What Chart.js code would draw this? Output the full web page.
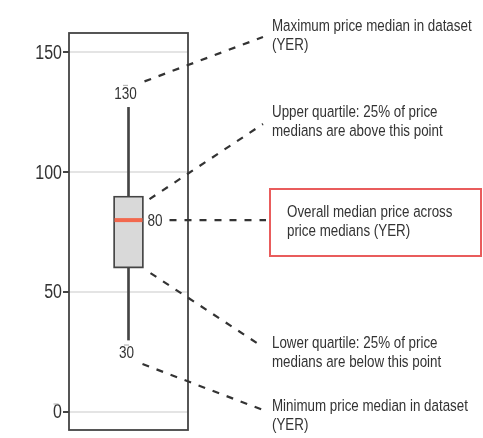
<!DOCTYPE html>
<html>
<head>
<meta charset="utf-8">
<script src="https://cdn.jsdelivr.net/npm/chart.js@4.4.1/dist/chart.umd.min.js"></script>
<style>
  html, body { margin: 0; padding: 0; background: #fff; }
  #wrap { width: 483px; height: 438px; position: relative; }
</style>
</head>
<body>
<div id="wrap"><canvas id="box"></canvas></div>
<script>
// box plot summary (YER)
const categories = ['Price medians'];
const minValue = [30];
const q1Value = [60];
const medianValue = [80];
const q3Value = [90];
const maxValue = [127];
const valueLabels = ['130', '80', '30'];
const tickValues = [0, 50, 100, 150];

const notes = [
  ['Maximum price median in dataset', '(YER)'],
  ['Upper quartile: 25% of price', 'medians are above this point'],
  ['Overall median price across', 'price medians (YER)'],
  ['Lower quartile: 25% of price', 'medians are below this point'],
  ['Minimum price median in dataset', '(YER)']
];

const FONT = "'Liberation Sans', Arial, sans-serif";
const INK = '#333333';
const SQUEEZE = 0.82; // fake arial narrow

function narrowText(ctx, text, x, y, align) {
  ctx.save();
  ctx.translate(x, y);
  ctx.scale(SQUEEZE, 1);
  ctx.textAlign = align || 'left';
  ctx.fillText(text, 0, 0);
  ctx.restore();
}

const boxExtras = {
  id: 'boxExtras',
  afterDatasetsDraw(chart) {
    const ctx = chart.ctx;
    const y = chart.scales.y;
    const x = chart.scales.x;
    const a = chart.chartArea;
    const cx = x.getPixelForValue(0);
    const half = 15;

    ctx.save();
    // frame
    ctx.strokeStyle = '#444';
    ctx.lineWidth = 1.8;
    ctx.strokeRect(a.left, a.top, a.right - a.left, a.bottom - a.top);

    // y tick labels
    ctx.fillStyle = INK;
    ctx.textBaseline = 'middle';
    ctx.font = '19.5px ' + FONT;
    y.ticks.forEach(t => narrowText(ctx, String(t.value), a.left - 7, y.getPixelForValue(t.value) + 1, 'right'));

    // median line
    const ym = y.getPixelForValue(medianValue[0]);
    ctx.strokeStyle = '#f2684e';
    ctx.lineWidth = 4;
    ctx.beginPath();
    ctx.moveTo(cx - half + 1, ym);
    ctx.lineTo(cx + half - 1, ym);
    ctx.stroke();

    // value labels
    ctx.font = '16.5px ' + FONT;
    const yMax = y.getPixelForValue(maxValue[0]);
    const yMin = y.getPixelForValue(minValue[0]);
    narrowText(ctx, valueLabels[0], cx - 3, yMax - 13, 'center');
    narrowText(ctx, valueLabels[2], cx - 2, yMin + 13, 'center');
    narrowText(ctx, valueLabels[1], cx + half + 4, ym + 1, 'left');

    // faint stray marks seen in the original
    ctx.strokeStyle = '#aaa';
    ctx.lineWidth = 1;
    [[cx - 3, yMax - 22], [cx - 2, yMin + 5], [a.left - 13, y.getPixelForValue(0) - 8]].forEach(p => {
      ctx.beginPath();
      ctx.moveTo(p[0] - 2.5, p[1]);
      ctx.lineTo(p[0] + 2.5, p[1]);
      ctx.stroke();
    });

    // leader lines
    const yQ3 = y.getPixelForValue(q3Value[0]);
    const yQ1 = y.getPixelForValue(q1Value[0]);
    const tx = 263;
    const leaders = [
      [cx + 16, yMax - 26, tx, 37],
      [cx + 21, yQ3 + 3, tx, 124],
      [cx + half + 26, ym, tx + 3, ym],
      [cx + 22, yQ1 + 5, tx, 347],
      [cx + 14, yMin + 24, tx, 410]
    ];
    ctx.strokeStyle = INK;
    ctx.lineWidth = 2.2;
    ctx.setLineDash([7, 8]);
    leaders.forEach(l => {
      ctx.beginPath();
      ctx.moveTo(l[0], l[1]);
      ctx.lineTo(l[2], l[3]);
      ctx.stroke();
    });
    ctx.setLineDash([]);

    // highlighted box for the median note
    ctx.strokeStyle = '#e95c5c';
    ctx.lineWidth = 2;
    ctx.strokeRect(270, 189, 211, 67);

    // notes
    ctx.font = '16.3px ' + FONT;
    ctx.fillStyle = INK;
    const noteY = [27, 113, 213, 344, 407];
    notes.forEach((n, i) => {
      const nx = i === 2 ? 287 : 272;
      n.forEach((line, j) => narrowText(ctx, line, nx, noteY[i] + j * 18.5, 'left'));
    });
    ctx.restore();
  }
};

new Chart(document.getElementById('box'), {
  type: 'bar',
  data: {
    labels: categories,
    datasets: [
      {
        label: 'upper whisker',
        data: q3Value.map((v, i) => [v, maxValue[i]]),
        backgroundColor: '#444',
        barThickness: 2,
        grouped: false,
        order: 2
      },
      {
        label: 'lower whisker',
        data: minValue.map((v, i) => [v, q1Value[i]]),
        backgroundColor: '#444',
        barThickness: 2,
        grouped: false,
        order: 2
      },
      {
        label: 'interquartile range',
        data: q1Value.map((v, i) => [v, q3Value[i]]),
        backgroundColor: '#d9d9d9',
        borderColor: '#444',
        borderWidth: 1.8,
        borderSkipped: false,
        barThickness: 30,
        grouped: false,
        order: 1
      }
    ]
  },
  options: {
    responsive: true,
    maintainAspectRatio: false,
    animation: false,
    layout: { padding: { left: 0, right: 295, top: 33, bottom: 8 } },
    plugins: { legend: { display: false }, tooltip: { enabled: false } },
    scales: {
      x: { display: false },
      y: {
        min: -7.5,
        max: 158,
        afterBuildTicks: s => { s.ticks = tickValues.map(v => ({ value: v })); },
        afterFit: s => { s.width = 69; },
        border: { display: false },
        grid: { color: '#e4e4e4', lineWidth: 2, tickColor: '#444', tickLength: 6 },
        ticks: { display: false }
      }
    }
  },
  plugins: [boxExtras]
});
</script>
</body>
</html>
